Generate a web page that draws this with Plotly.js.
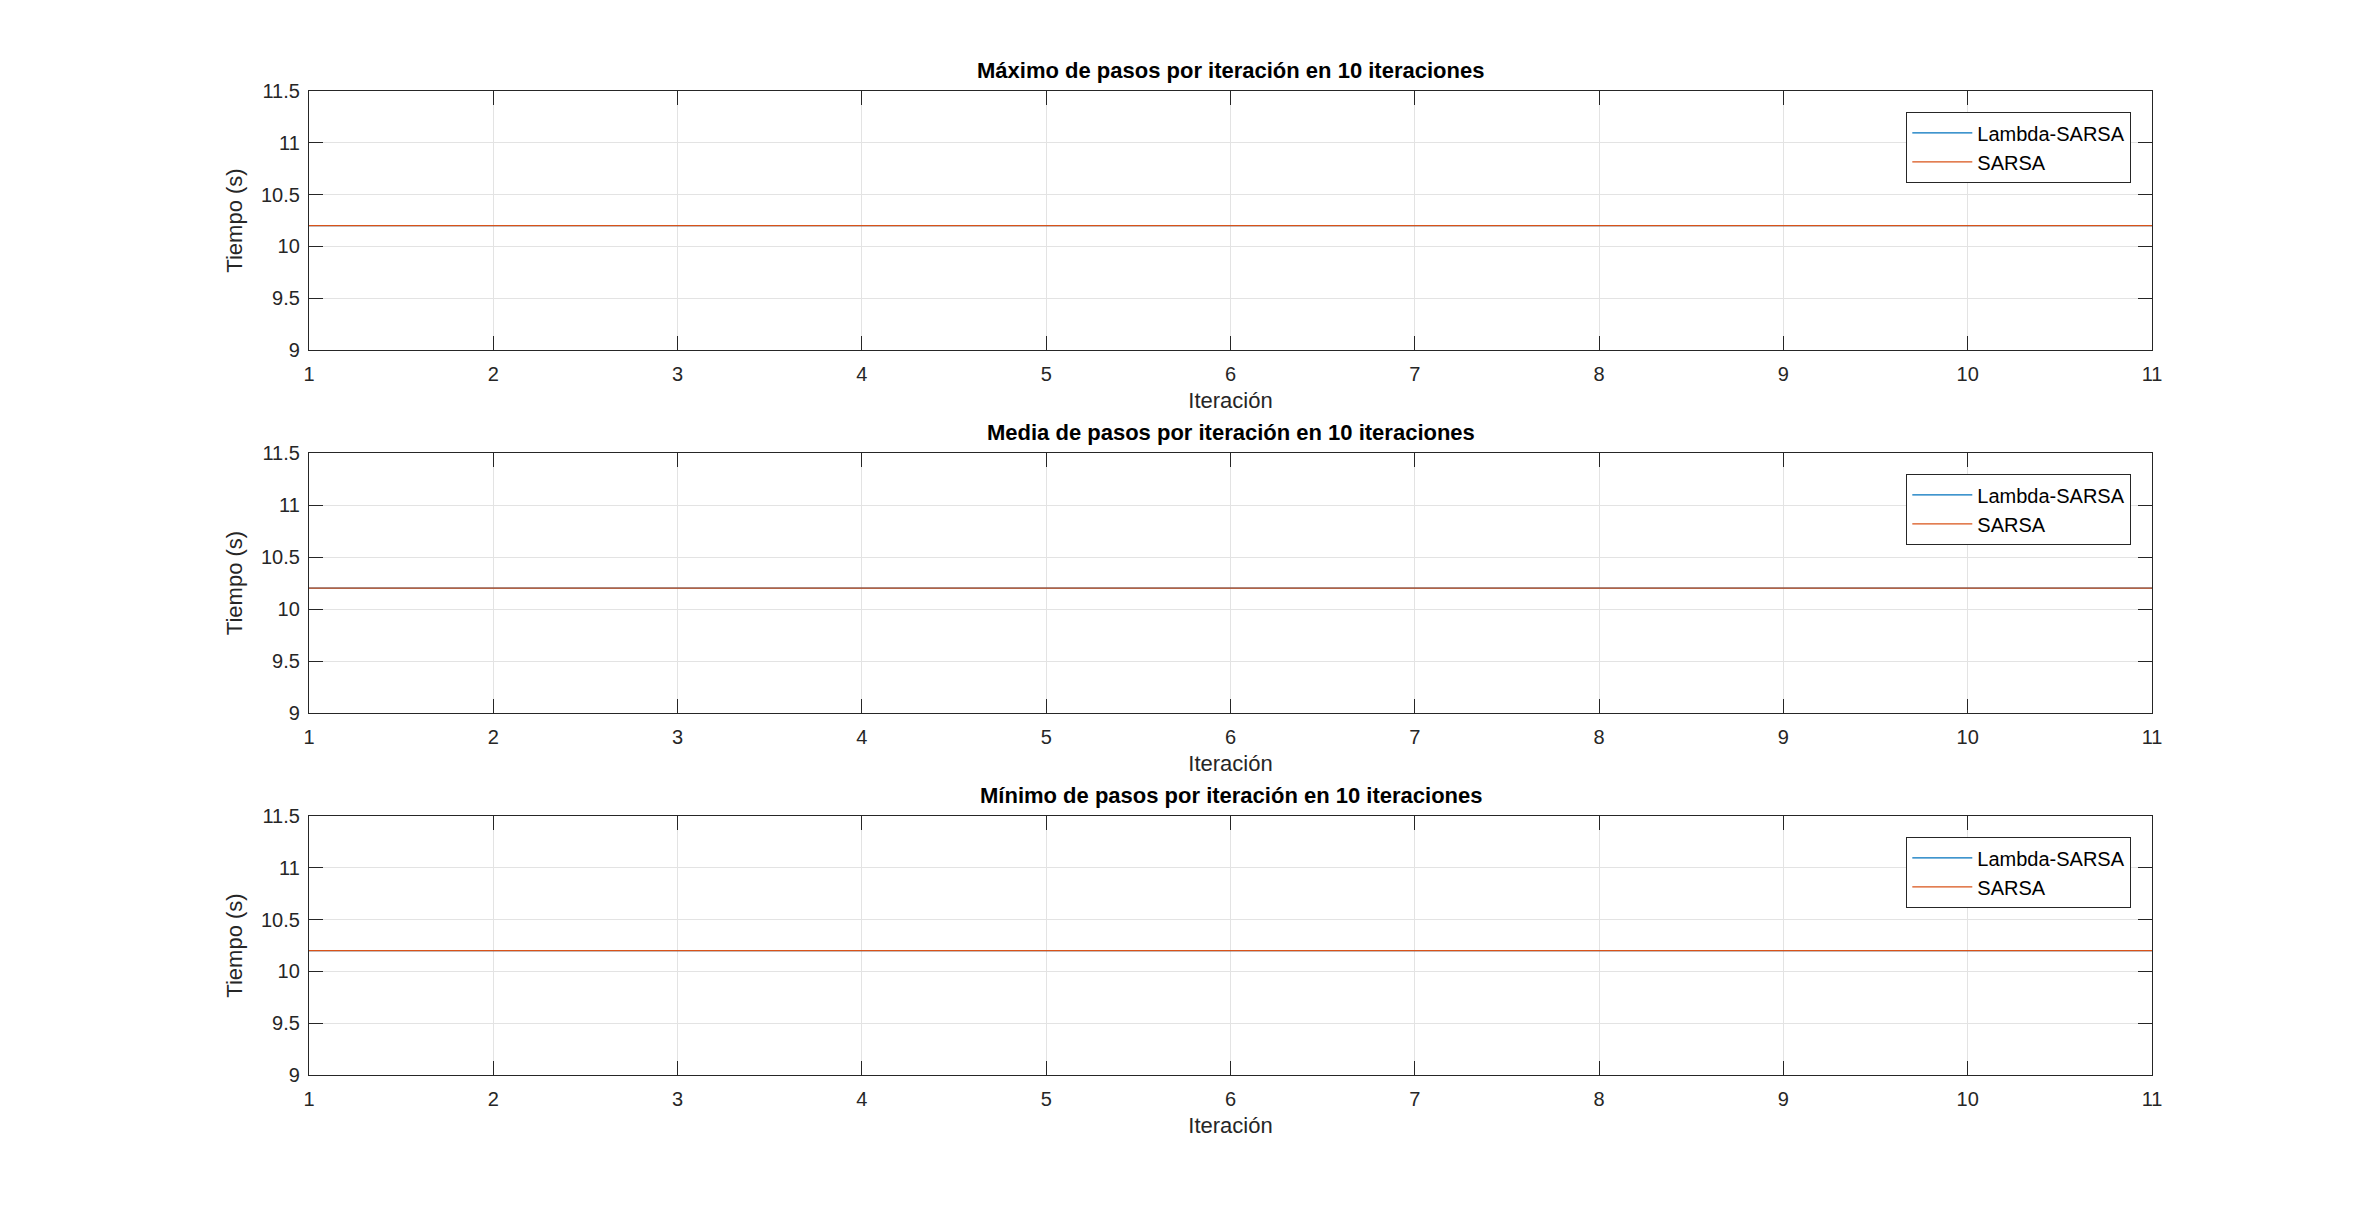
<!DOCTYPE html>
<html>
<head>
<meta charset="utf-8">
<script src="https://cdn.plot.ly/plotly-3.0.1.min.js"></script>
<style>body{margin:0;background:#fff}#chart{width:2378px;height:1210px}</style>
</head>
<body>
<div id="chart"></div>
<script>
var iteraciones = [1, 2, 3, 4, 5, 6, 7, 8, 9, 10, 11];
var maxLambda = [10.2, 10.2, 10.2, 10.2, 10.2, 10.2, 10.2, 10.2, 10.2, 10.2, 10.2];
var maxSarsa = [10.2, 10.2, 10.2, 10.2, 10.2, 10.2, 10.2, 10.2, 10.2, 10.2, 10.2];
var mediaLambda = [10.2, 10.2, 10.2, 10.2, 10.2, 10.2, 10.2, 10.2, 10.2, 10.2, 10.2];
var mediaSarsa = [10.2, 10.2, 10.2, 10.2, 10.2, 10.2, 10.2, 10.2, 10.2, 10.2, 10.2];
var minLambda = [10.2, 10.2, 10.2, 10.2, 10.2, 10.2, 10.2, 10.2, 10.2, 10.2, 10.2];
var minSarsa = [10.2, 10.2, 10.2, 10.2, 10.2, 10.2, 10.2, 10.2, 10.2, 10.2, 10.2];
var titulos = ['Máximo de pasos por iteración en 10 iteraciones',
               'Media de pasos por iteración en 10 iteraciones',
               'Mínimo de pasos por iteración en 10 iteraciones'];

var font = 'Liberation Sans, Arial, sans-serif';
var series = [[maxLambda, maxSarsa], [mediaLambda, mediaSarsa], [minLambda, minSarsa]];
// plot area rows in pixels (top, bottom)
var rows = [[91, 350], [453, 713], [816, 1075]];
var H = 1210, W = 2378;

var data = [];
var layout = {
    width: W, height: H,
    margin: {l: 0, r: 0, t: 0, b: 0},
    paper_bgcolor: '#fff', plot_bgcolor: '#fff',
    font: {family: font, size: 20, color: '#262626'},
    annotations: []
};

series.forEach(function(s, i){
    var n = i === 0 ? '' : String(i + 1);
    var lg = i === 0 ? 'legend' : 'legend' + (i + 1);
    data.push({x: iteraciones, y: s[0], type: 'scatter', mode: 'lines', name: 'Lambda-SARSA',
        line: {color: '#0072BD', width: 1.3}, xaxis: 'x' + n, yaxis: 'y' + n, legend: lg});
    data.push({x: iteraciones, y: s[1], type: 'scatter', mode: 'lines', name: 'SARSA',
        line: {color: '#D95319', width: 1.3}, xaxis: 'x' + n, yaxis: 'y' + n, legend: lg});

    var top = 1 - rows[i][0] / H, bot = 1 - rows[i][1] / H;
    var ax = {
        domain: [309 / W, 2152 / W], range: [1, 11], dtick: 1,
        showline: true, mirror: 'ticks', linecolor: '#262626', linewidth: 1.3,
        ticks: 'inside', ticklen: 14, tickcolor: '#262626', ticklabelstandoff: 6,
        showgrid: true, gridcolor: '#e3e3e3', zeroline: false,
        anchor: 'y' + n,
        title: {text: 'Iteración', font: {size: 22}, standoff: 8}
    };
    var ay = {
        domain: [bot, top], range: [9, 11.5], dtick: 0.5,
        showline: true, mirror: 'ticks', linecolor: '#262626', linewidth: 1.3,
        ticks: 'inside', ticklen: 14, tickcolor: '#262626', ticklabelstandoff: 4,
        showgrid: true, gridcolor: '#e3e3e3', zeroline: false,
        anchor: 'x' + n,
        title: {text: 'Tiempo (s)', font: {size: 22}, standoff: 12}
    };
    layout['xaxis' + n] = ax;
    layout['yaxis' + n] = ay;
    layout[lg] = {
        x: 2131 / W, xanchor: 'right', y: top - 21 / H, yanchor: 'top',
        bgcolor: '#fff', bordercolor: '#262626', borderwidth: 1.3,
        font: {size: 20, color: '#000'}, tracegroupgap: 0, itemwidth: 60
    };
    layout.annotations.push({
        text: '<b>' + titulos[i] + '</b>', xref: 'paper', yref: 'paper',
        x: (309 + 2152) / 2 / W, y: top + 6 / H, xanchor: 'center', yanchor: 'bottom',
        showarrow: false, font: {size: 22, color: '#000'}
    });
});

Plotly.newPlot('chart', data, layout, {displayModeBar: false});
</script>
</body>
</html>
